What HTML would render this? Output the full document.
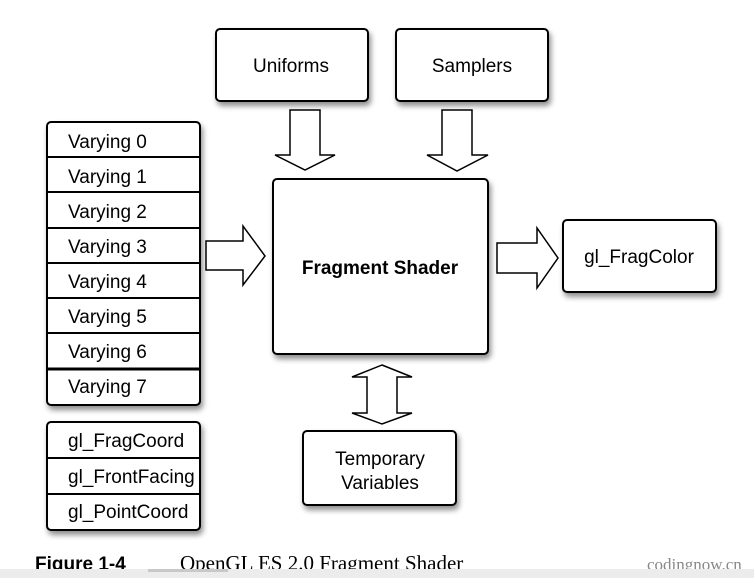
<!DOCTYPE html>
<html><head><style>
html,body{margin:0;padding:0;background:#fff;width:754px;height:578px;overflow:hidden}
svg{display:block}
text{font-family:"Liberation Sans",sans-serif;font-size:19px;fill:#000}
</style></head><body>
<svg width="754" height="578" viewBox="0 0 754 578" xmlns="http://www.w3.org/2000/svg">
<defs><filter id="sh" x="-10%" y="-10%" width="130%" height="130%"><feGaussianBlur in="SourceAlpha" stdDeviation="3"/><feOffset dx="2" dy="4"/><feComponentTransfer><feFuncA type="linear" slope="0.45"/></feComponentTransfer><feMerge><feMergeNode/><feMergeNode in="SourceGraphic"/></feMerge></filter></defs>
<g stroke="#000" stroke-width="2" fill="#fff" filter="url(#sh)">
<rect x="216" y="29" width="152" height="72" rx="4"/>
<rect x="396" y="29" width="152" height="72" rx="4"/>
<rect x="47" y="122" width="153" height="283" rx="4"/>
<rect x="47" y="422" width="153" height="108" rx="4"/>
<rect x="273" y="179" width="215" height="175" rx="4"/>
<rect x="563" y="220" width="153" height="72" rx="4"/>
<rect x="303" y="431" width="153" height="74" rx="4"/>
</g>
<g stroke="#000" stroke-width="2">
<line x1="47" y1="157" x2="200" y2="157"/><line x1="47" y1="192" x2="200" y2="192"/>
<line x1="47" y1="228" x2="200" y2="228"/><line x1="47" y1="263" x2="200" y2="263"/>
<line x1="47" y1="298" x2="200" y2="298"/><line x1="47" y1="333" x2="200" y2="333"/>
<line x1="47" y1="369" x2="200" y2="369" stroke-width="3"/>
<line x1="47" y1="458" x2="200" y2="458"/><line x1="47" y1="494" x2="200" y2="494"/>
</g>
<g stroke="#000" stroke-width="1.5" fill="#fff">
<polygon points="290,110 320,110 320,155 335,155 305,170 275,155 290,155"/>
<polygon points="442,110 472,110 472,155 488,155 457,171 427,155 442,155"/>
<polygon points="206,241 243,241 243,226 265,256 243,285 243,270 206,270"/>
<polygon points="497,243 537,243 537,228 558,258 537,288 537,273 497,273"/>
<polygon points="382,365 412,377 397,377 397,413 412,413 382,424 352,413 367,413 367,377 352,377"/>
</g>
<text x="291" y="72" text-anchor="middle">Uniforms</text>
<text x="472" y="72" text-anchor="middle">Samplers</text>
<text x="68" y="148">Varying 0</text><text x="68" y="183">Varying 1</text>
<text x="68" y="218">Varying 2</text><text x="68" y="253">Varying 3</text>
<text x="68" y="288">Varying 4</text><text x="68" y="323">Varying 5</text>
<text x="68" y="358">Varying 6</text><text x="68" y="393">Varying 7</text>
<text x="68" y="447">gl_FragCoord</text><text x="68" y="483">gl_FrontFacing</text><text x="68" y="518">gl_PointCoord</text>
<text x="380" y="274" text-anchor="middle" font-weight="bold">Fragment Shader</text>
<text x="639" y="263" text-anchor="middle">gl_FragColor</text>
<text x="380" y="465" text-anchor="middle">Temporary</text>
<text x="380" y="489" text-anchor="middle">Variables</text>
<text x="35" y="570" font-weight="bold" style="font-size:19px">Figure 1-4</text>
<text x="180" y="570" style="font-family:'Liberation Serif',serif;font-size:21px">OpenGL ES 2.0 Fragment Shader</text>
<text x="647" y="570" style="font-family:'Liberation Serif',serif;font-size:17px;fill:#888">codingnow.cn</text>
<rect x="0" y="569" width="754" height="9" fill="#ececec"/>
<rect x="148" y="569" width="80" height="3" fill="#c8c8c8"/>
</svg>
</body></html>
